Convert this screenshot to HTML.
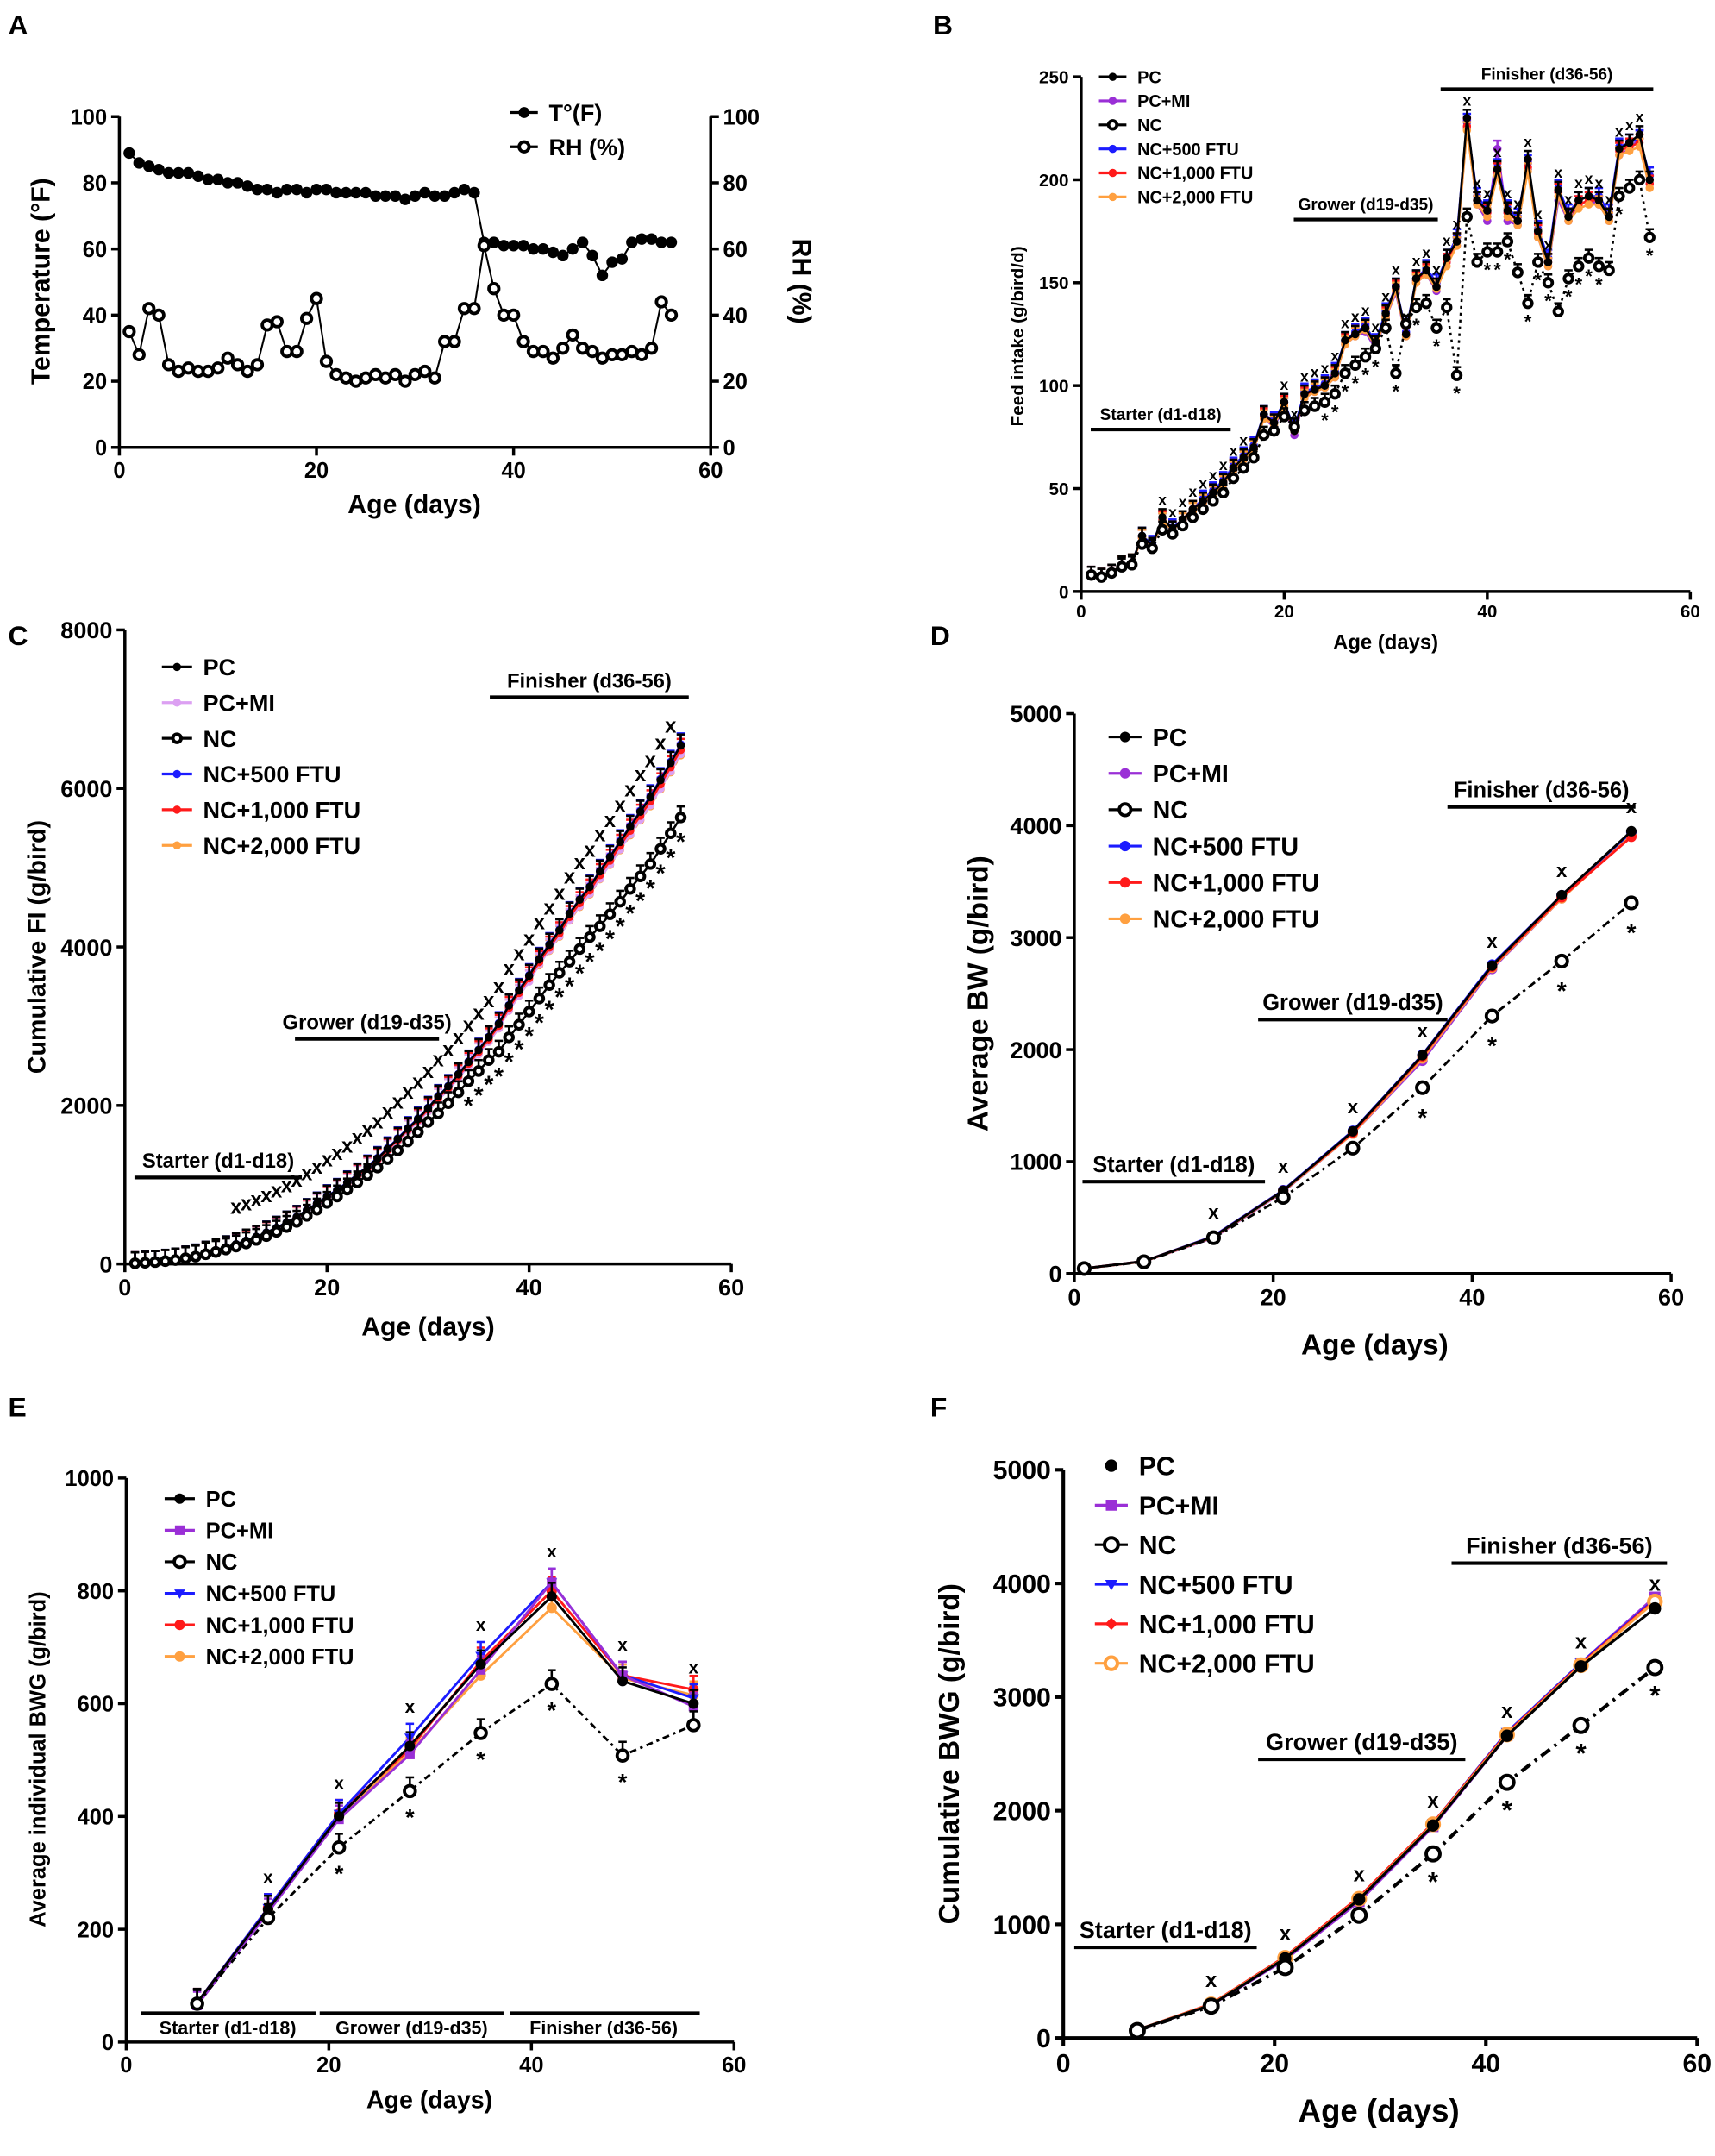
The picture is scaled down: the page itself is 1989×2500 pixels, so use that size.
<!DOCTYPE html>
<html><head><meta charset="utf-8"><style>
html,body{margin:0;padding:0;background:#fff}
svg{display:block;font-family:"Liberation Sans",sans-serif;font-weight:bold}
</style></head><body>
<svg id="fig" xmlns="http://www.w3.org/2000/svg" width="1989" height="2500" viewBox="0 0 1250 1571" preserveAspectRatio="none"></svg>
<script>
// ---------- DATA ----------
const daysA = [1,2,3,4,5,6,7,8,9,10,11,12,13,14,15,16,17,18,19,20,21,22,23,24,25,26,27,28,29,30,31,32,33,34,35,36,37,38,39,40,41,42,43,44,45,46,47,48,49,50,51,52,53,54,55,56];
const tempF = [89,86,85,84,83,83,83,82,81,81,80,80,79,78,78,77,78,78,77,78,78,77,77,77,77,76,76,76,75,76,77,76,76,77,78,77,62,62,61,61,61,60,60,59,58,60,62,58,52,56,57,62,63,63,62,62];
const rhPct = [35,28,42,40,25,23,24,23,23,24,27,25,23,25,37,38,29,29,39,45,26,22,21,20,21,22,21,22,20,22,23,21,32,32,42,42,61,48,40,40,32,29,29,27,30,34,30,29,27,28,28,29,28,30,44,40];

const daysB = daysA;
const fiPC  = [8,7,9,13,14,27,22,36,30,35,40,44,48,53,60,65,70,86,82,92,78,96,98,100,106,122,125,128,120,135,148,125,152,156,148,162,170,230,190,185,205,185,180,210,175,160,195,182,190,192,190,182,215,218,222,200];
const fiMI  = [8,7,9,13,14,26,22,34,30,34,39,43,47,52,59,64,69,84,80,90,76,94,97,99,104,120,124,126,118,133,145,124,150,154,146,160,168,225,188,180,215,180,178,205,172,158,190,180,188,190,188,180,212,215,220,198];
const fiNC  = [8,7,9,12,13,23,21,30,28,32,36,40,44,48,55,60,65,76,78,85,80,88,90,92,96,106,110,114,118,128,106,130,138,140,128,138,105,182,160,165,165,170,155,140,160,150,136,152,158,162,158,156,192,196,200,172];
const fi500 = [8,7,9,13,14,27,23,35,31,35,40,45,49,54,61,66,71,86,83,92,79,97,99,101,107,122,126,129,121,136,148,126,152,157,150,162,172,228,192,186,206,186,182,208,176,162,196,184,190,192,192,184,216,218,220,202];
const fi1000= [8,7,9,13,14,26,22,35,30,35,40,44,48,53,60,65,70,85,82,91,78,95,98,100,105,121,125,128,120,134,147,125,151,155,148,160,170,226,190,184,204,184,180,206,174,160,194,182,188,190,190,182,214,216,218,198];
const fi2000= [8,7,9,13,14,26,22,34,30,34,39,43,47,52,59,64,69,84,81,90,78,94,97,99,104,120,124,127,119,133,146,124,150,154,147,158,168,224,188,182,202,182,178,204,172,158,192,180,186,188,188,180,212,214,216,196];

const daysC = [1,2,3,4,5,6,7,8,9,10,11,12,13,14,15,16,17,18,19,20,21,22,23,24,25,26,27,28,29,30,31,32,33,34,35,36,37,38,39,40,41,42,43,44,45,46,47,48,49,50,51,52,53,54,55];
const cumPC  = [8,16,26,40,56,82,106,142,174,210,250,295,342,396,456,522,592,678,760,850,930,1025,1125,1225,1330,1452,1578,1706,1828,1965,2112,2240,2392,2548,2698,2860,3030,3260,3450,3636,3842,4028,4210,4420,4596,4756,4952,5134,5324,5516,5706,5888,6104,6322,6542];
const cumMI  = [8,16,25,39,55,80,103,138,170,205,244,288,334,387,446,510,579,663,743,833,910,1004,1101,1200,1304,1424,1548,1674,1792,1925,2070,2194,2344,2498,2644,2804,2972,3196,3384,3564,3778,3958,4136,4341,4513,4671,4861,5041,5229,5419,5607,5787,5999,6214,6434];
const cumNC  = [8,15,24,36,49,72,93,123,151,183,219,259,303,351,406,466,531,607,685,770,850,938,1028,1120,1216,1322,1432,1546,1664,1792,1898,2028,2166,2306,2434,2572,2677,2859,3019,3184,3349,3519,3674,3814,3974,4124,4260,4412,4570,4732,4890,5046,5238,5434,5634];
const cum500 = [8,16,26,40,56,82,106,142,174,210,250,295,343,397,457,523,594,680,763,855,934,1030,1129,1230,1337,1459,1585,1714,1835,1971,2119,2245,2397,2554,2704,2866,3038,3266,3458,3644,3850,4036,4218,4426,4602,4764,4960,5144,5334,5526,5718,5902,6118,6336,6556];
const cum1000= [8,16,25,39,55,81,104,140,171,206,246,290,338,391,451,516,586,671,753,844,922,1017,1115,1215,1320,1441,1566,1694,1814,1948,2095,2220,2371,2526,2674,2834,3004,3230,3420,3604,3808,3992,4172,4378,4552,4712,4906,5088,5276,5466,5656,5838,6052,6268,6486];
const cum2000= [8,16,25,39,55,80,103,137,168,203,242,285,332,385,444,508,576,660,740,830,908,1002,1099,1198,1302,1422,1546,1673,1792,1925,2071,2195,2345,2499,2646,2804,2972,3196,3384,3566,3768,3950,4128,4332,4504,4662,4854,5034,5220,5408,5596,5776,5988,6202,6418];

const daysD = [1,7,14,21,28,35,42,49,56];
const bwPC  = [45,110,330,740,1270,1950,2750,3380,3950];
const bwMI  = [45,108,320,730,1250,1900,2720,3350,3920];
const bwNC  = [45,105,320,680,1120,1660,2300,2790,3310];
const bw500 = [45,110,335,745,1275,1955,2760,3380,3940];
const bw1000= [45,110,330,740,1260,1940,2740,3360,3900];
const bw2000= [45,108,325,735,1250,1920,2730,3350,3910];

const daysE = [7,14,21,28,35,42,49,56];
const gPC  = [70,235,400,525,670,790,640,600];
const gMI  = [65,230,395,510,660,815,650,595];
const gNC  = [68,220,345,445,548,635,508,562];
const g500 = [70,238,405,540,685,815,650,610];
const g1000= [70,238,405,520,675,800,650,625];
const g2000= [70,235,400,515,650,770,645,615];

const daysF = [7,14,21,28,35,42,49,56];
const cgPC  = [70,290,700,1220,1870,2660,3270,3780];
const cgMI  = [70,290,690,1200,1860,2660,3300,3880];
const cgNC  = [65,280,620,1080,1620,2250,2750,3260];
const cg500 = [70,295,710,1230,1890,2690,3300,3860];
const cg1000= [70,300,715,1240,1890,2680,3290,3850];
const cg2000= [70,295,705,1225,1880,2670,3280,3840];

const legendNames = ["PC","PC+MI","NC","NC+500 FTU","NC+1,000 FTU","NC+2,000 FTU"];

// ---------- DRAW ----------
const NS="http://www.w3.org/2000/svg";
const svg=document.getElementById('fig');
function el(tag,attrs,parent,text){const e=document.createElementNS(NS,tag);for(const k in attrs)e.setAttribute(k,attrs[k]);if(text!==undefined)e.textContent=text;(parent||svg).appendChild(e);return e;}
function txt(x,y,s,size,parent,anchor,rot,name){const t=el('text',{x:x,y:y,'font-size':size,'text-anchor':anchor||'middle',fill:'#000'},parent,s);if(rot)t.setAttribute('transform','rotate('+rot+' '+x+' '+y+')');return t;}

function panel(c){
  const g=el('g',{});
  
  
  c.sx=v=>c.x0+(v-c.xmin)/(c.xmax-c.xmin)*(c.x1-c.x0);
  c.sy=v=>c.y0-(v-c.ymin)/(c.ymax-c.ymin)*(c.y0-c.y1);
  const ax=el('g',{stroke:'#000','stroke-width':c.aw||2.2},g);
  
  el('line',{x1:c.x0,y1:c.y0,x2:c.x1,y2:c.y0},ax);
  el('line',{x1:c.x0,y1:c.y0,x2:c.x0,y2:c.y1},ax);
  if(c.right)el('line',{x1:c.x1,y1:c.y0,x2:c.x1,y2:c.y1},ax);
  for(const v of c.xt){const x=c.sx(v);el('line',{x1:x,y1:c.y0,x2:x,y2:c.y0+6},ax);txt(x,c.y0+6+c.tf,String(v),c.tf,g,'middle',0,'x-tick-label');}
  for(const v of c.yt){const y=c.sy(v);el('line',{x1:c.x0-6,y1:y,x2:c.x0,y2:y},ax);txt(c.x0-9,y+c.tf*0.36,String(v),c.tf,g,'end',0,'y-tick-label');
    if(c.right){el('line',{x1:c.x1,y1:y,x2:c.x1+6,y2:y},ax);txt(c.x1+9,y+c.tf*0.36,String(v),c.tf,g,'start',0,'y2-tick-label');}}
  txt(c.xl[0],c.xl[1],'Age (days)',c.xf,g,'middle',0,'x-axis-title');
  txt(c.yl[0],c.yl[1],c.ytitle,c.yf,g,'middle',-90,'y-axis-title');
  txt(c.lx,c.ly,c.letter,20,g,'start',0,'panel-letter');
  c.g=g;return c;
}
function marker(c,x,y,s,parent){
  if(s.mk==='open'){el('circle',{cx:x,cy:y,r:s.r||4,fill:'#fff',stroke:s.col,'stroke-width':2.4},parent);}
  else if(s.mk==='sq'){el('rect',{x:x-s.r,y:y-s.r,width:2*s.r,height:2*s.r,fill:s.col},parent);}
  else if(s.mk==='tri'){el('path',{d:'M'+(x-s.r)+' '+(y-s.r*0.7)+'L'+(x+s.r)+' '+(y-s.r*0.7)+'L'+x+' '+(y+s.r)+'Z',fill:s.col},parent);}
  else if(s.mk==='dia'){el('path',{d:'M'+(x-s.r)+' '+y+'L'+x+' '+(y-s.r)+'L'+(x+s.r)+' '+y+'L'+x+' '+(y+s.r)+'Z',fill:s.col},parent);}
  else if(s.mk==='ring'){el('circle',{cx:x,cy:y,r:s.r,fill:'#fff',stroke:s.col,'stroke-width':2.5},parent);}
  else el('circle',{cx:x,cy:y,r:s.r||4,fill:s.col},parent);
}
function series(c,xs,ys,s,name){
  const g=el('g',{},c.g);
  
  let d='';xs.forEach((x,i)=>{d+=(i?'L':'M')+c.sx(x).toFixed(1)+' '+c.sy(ys[i]).toFixed(1);});
  if(s.line!==false){const p=el('path',{d:d,fill:'none',stroke:s.col,'stroke-width':s.w||1.6},g);if(s.dash)p.setAttribute('stroke-dasharray',s.dash);}
  if(s.err){xs.forEach((x,i)=>{const X=c.sx(x),Y=c.sy(ys[i]);el('line',{x1:X,y1:Y,x2:X,y2:Y-s.err,stroke:s.col,'stroke-width':1.6},g);el('line',{x1:X-3,y1:Y-s.err,x2:X+3,y2:Y-s.err,stroke:s.col,'stroke-width':1.6},g);});}
  if(s.mk!=='none')xs.forEach((x,i)=>marker(c,c.sx(x),c.sy(ys[i]),s,g));
}
function legend(c,styles,x,y0,dy,size,lineLen){
  const g=el('g',{},c.g);
  
  styles.forEach((s,i)=>{const y=y0+i*dy;
    const e=el('g',{},g);
    if(s.line!==false)el('line',{x1:x,y1:y,x2:x+lineLen,y2:y,stroke:s.col,'stroke-width':2},e);
    marker(c,x+lineLen/2,y,s,e);
    txt(x+lineLen+8,y+size*0.36,s.label,size,e,'start',0,'legend-label');});
}
function phase(c,x1,x2,y,label,size){
  const g=el('g',{},c.g);
  el('line',{x1:x1,y1:y,x2:x2,y2:y,stroke:'#000','stroke-width':2.6},g);
  txt((x1+x2)/2,y-7,label,size,g,'middle',0,'phase-label');
}
function marks(c,xs,ys,idx,sym,off,size){
  idx.forEach(i=>{txt(c.sx(xs[i]),c.sy(ys[i])+off,sym,size,c.g,'middle',0,sym==='x'?'significance-x':'significance-star');});
}
const COL={pc:'#000',mi:'#9a2fd6',mil:'#dca0f2',nc:'#000',b:'#1c1cff',r:'#ff1a1a',o:'#ffa040'};

// Panel A
const A=panel({name:'panel-a',letter:'A',lx:6,ly:25,x0:87,x1:518,xmin:0,xmax:60,y0:326,y1:85,ymin:0,ymax:100,xt:[0,20,40,60],yt:[0,20,40,60,80,100],tf:16,right:true,xl:[302,374],xf:19,yl:[36,205],ytitle:'Temperature (°F)',yf:19});
txt(578,205,'RH (%)',19,A.g,'middle',90,'y2-axis-title');
series(A,daysA,tempF,{col:'#000',mk:'fill',r:4.2,w:1.3},'series-temperature');
series(A,daysA,rhPct,{col:'#000',mk:'open',r:3.6,w:1.3},'series-rh');
legend(A,[{col:'#000',mk:'fill',r:4,label:'T°(F)'},{col:'#000',mk:'open',r:3.6,label:'RH (%)'}],372,82,25,17,20);

// Panel B
const B=panel({name:'panel-b',letter:'B',lx:680,ly:25,x0:788,x1:1232,xmin:0,xmax:60,y0:431,y1:56,ymin:0,ymax:250,xt:[0,20,40,60],yt:[0,50,100,150,200,250],tf:13,xl:[1010,473],xf:15,yl:[746,245],ytitle:'Feed intake (g/bird/d)',yf:13});
const stB=[{col:COL.pc,mk:'fill',r:3,label:legendNames[0]},{col:COL.mi,mk:'fill',r:3,label:legendNames[1]},{col:COL.nc,mk:'open',r:3,label:legendNames[2],dash:'2 3'},{col:COL.b,mk:'fill',r:3,label:legendNames[3]},{col:COL.r,mk:'fill',r:3,label:legendNames[4]},{col:COL.o,mk:'fill',r:3,label:legendNames[5]}];
[[fiMI,1,'series-pc-mi'],[fi500,3,'series-nc-500'],[fi1000,4,'series-nc-1000'],[fi2000,5,'series-nc-2000'],[fiPC,0,'series-pc'],[fiNC,2,'series-nc']].forEach(a=>series(B,daysB,a[0],Object.assign({err:6},stB[a[1]]),a[2]));
legend(B,stB,801,56,17.5,12.5,20);
phase(B,795,897,313,'Starter (d1-d18)',12);
phase(B,943,1048,160,'Grower (d19-d35)',12);
phase(B,1050,1205,65,'Finisher (d36-56)',12);
marks(B,daysB,fiPC,[7,8,9,10,11,12,13,14,15,19,20,21,22,23,24,25,26,27,28,29,30,31,32,33,34,35,36,37,38,39,40,41,42,43,44,45,46,47,48,49,50,51,52,53,54],'x',-9,11);
marks(B,daysB,fiNC,[23,24,25,26,27,28,30,32,34,36,39,40,41,43,44,45,47,48,49,50,52,55],'*',18,14);

// Panel C
const C=panel({name:'panel-c',letter:'C',lx:6,ly:470,x0:91,x1:533,xmin:0,xmax:60,y0:921,y1:459,ymin:0,ymax:8000,xt:[0,20,40,60],yt:[0,2000,4000,6000,8000],tf:17,xl:[312,973],xf:19,yl:[33,690],ytitle:'Cumulative FI (g/bird)',yf:18});
const stC=[{col:COL.pc,mk:'fill',r:3,label:legendNames[0]},{col:COL.mil,mk:'fill',r:3,label:legendNames[1]},{col:COL.nc,mk:'ring',r:3,label:legendNames[2]},{col:COL.b,mk:'fill',r:3,label:legendNames[3]},{col:COL.r,mk:'fill',r:3,label:legendNames[4]},{col:COL.o,mk:'fill',r:3,label:legendNames[5],dash:'3 3'}];
[[cum2000,5,'series-nc-2000'],[cumMI,1,'series-pc-mi'],[cum1000,4,'series-nc-1000'],[cum500,3,'series-nc-500'],[cumPC,0,'series-pc'],[cumNC,2,'series-nc']].forEach(a=>series(C,daysC,a[0],Object.assign({err:8},stC[a[1]]),a[2]));
legend(C,stC,118,486,26,17,22);
phase(C,98,220,858,'Starter (d1-d18)',15);
phase(C,215,320,757,'Grower (d19-d35)',15);
phase(C,357,502,508,'Finisher (d36-56)',15);
marks(C,daysC,cumPC,[10,11,12,13,14,15,16,17,18,19,20,21,22,23,24,25,26,27,28,29,30,31,32,33,34,35,36,37,38,39,40,41,42,43,44,45,46,47,48,49,50,51,52,53],'x',-22,15);
marks(C,daysC,cumNC,[33,34,35,36,37,38,39,40,41,42,43,44,45,46,47,48,49,50,51,52,53,54],'*',24,18);

// Panel D
const D=panel({name:'panel-d',letter:'D',lx:678,ly:470,x0:783,x1:1218,xmin:0,xmax:60,y0:928,y1:520,ymin:0,ymax:5000,xt:[0,20,40,60],yt:[0,1000,2000,3000,4000,5000],tf:17,xl:[1002,987],xf:21,yl:[720,724],ytitle:'Average BW (g/bird)',yf:21});
const stD=[{col:COL.pc,mk:'fill',r:3.8,label:legendNames[0]},{col:COL.mi,mk:'fill',r:3.8,label:legendNames[1]},{col:COL.nc,mk:'open',r:4.2,label:legendNames[2],dash:'6 3 2 3'},{col:COL.b,mk:'fill',r:3.8,label:legendNames[3]},{col:COL.r,mk:'fill',r:3.8,label:legendNames[4]},{col:COL.o,mk:'fill',r:3.8,label:legendNames[5]}];
[[bwMI,1,'series-pc-mi'],[bw500,3,'series-nc-500'],[bw2000,5,'series-nc-2000'],[bw1000,4,'series-nc-1000'],[bwPC,0,'series-pc'],[bwNC,2,'series-nc']].forEach(a=>series(D,daysD,a[0],Object.assign({w:1.8},stD[a[1]]),a[2]));
legend(D,stD,808,537,26.5,18,24);
phase(D,789,922,861,'Starter (d1-d18)',16);
phase(D,917,1055,743,'Grower (d19-d35)',16);
phase(D,1055,1192,588,'Finisher (d36-56)',16);
marks(D,daysD,bwPC,[2,3,4,5,6,7,8],'x',-13,14);
marks(D,daysD,bwNC,[5,6,7,8],'*',28,18);

// Panel E
const E=panel({name:'panel-e',letter:'E',lx:6,ly:1032,x0:92,x1:535,xmin:0,xmax:60,y0:1488,y1:1077,ymin:0,ymax:1000,xt:[0,20,40,60],yt:[0,200,400,600,800,1000],tf:16,xl:[313,1536],xf:18,yl:[33,1282],ytitle:'Average individual BWG (g/bird)',yf:16});
const stE=[{col:COL.pc,mk:'fill',r:3.8,label:legendNames[0]},{col:COL.mi,mk:'sq',r:3.5,label:legendNames[1]},{col:COL.nc,mk:'open',r:4,label:legendNames[2],dash:'5 3 2 3',line:true},{col:COL.b,mk:'tri',r:4,label:legendNames[3]},{col:COL.r,mk:'fill',r:3.8,label:legendNames[4]},{col:COL.o,mk:'fill',r:3.8,label:legendNames[5]}];
[[g2000,5,'series-nc-2000'],[g1000,4,'series-nc-1000'],[g500,3,'series-nc-500'],[gMI,1,'series-pc-mi'],[gPC,0,'series-pc'],[gNC,2,'series-nc']].forEach(a=>series(E,daysE,a[0],Object.assign({w:1.8,err:10},stE[a[1]]),a[2]));
legend(E,stE,120,1092,23,16,22);
phase(E,103,230,1467,'',14);txt(166,1482,'Starter (d1-d18)',13.5,E.g,'middle',0,'phase-label');
phase(E,233,367,1467,'',14);txt(300,1482,'Grower (d19-d35)',13.5,E.g,'middle',0,'phase-label');
phase(E,372,510,1467,'',14);txt(440,1482,'Finisher (d36-56)',13.5,E.g,'middle',0,'phase-label');
marks(E,daysE,g500,[1,2,3,4,5,6,7],'x',-18,13);
marks(E,daysE,gNC,[2,3,4,5,6],'*',25,17);

// Panel F
const F=panel({name:'panel-f',letter:'F',lx:678,ly:1032,x0:775,x1:1237,xmin:0,xmax:60,y0:1485,y1:1071,ymin:0,ymax:5000,xt:[0,20,40,60],yt:[0,1000,2000,3000,4000,5000],tf:19,aw:2.6,xl:[1005,1546],xf:23,yl:[699,1278],ytitle:'Cumulative BWG (g/bird)',yf:21});
const stF=[{col:COL.pc,mk:'fill',r:4.5,label:legendNames[0],line:false},{col:COL.mi,mk:'sq',r:4,label:legendNames[1]},{col:COL.nc,mk:'ring',r:5,label:legendNames[2],dash:'8 4 2 4',w:2.6},{col:COL.b,mk:'tri',r:4.5,label:legendNames[3]},{col:COL.r,mk:'dia',r:4.5,label:legendNames[4]},{col:COL.o,mk:'ring',r:4.5,label:legendNames[5]}];
[[cgMI,1,'series-pc-mi'],[cg500,3,'series-nc-500'],[cg1000,4,'series-nc-1000'],[cg2000,5,'series-nc-2000'],[cgPC,0,'series-pc'],[cgNC,2,'series-nc']].forEach(a=>series(F,daysF,a[0],Object.assign({w:2},stF[a[1]],{line:true}),a[2]));
legend(F,stF,798,1068,28.8,19,24);
phase(F,783,916,1419,'Starter (d1-d18)',17);
phase(F,917,1068,1282,'Grower (d19-d35)',17);
phase(F,1058,1215,1139,'Finisher (d36-56)',17);
marks(F,daysF,cgPC,[1,2,3,4,5,6,7],'x',-13,15);
marks(F,daysF,cgNC,[4,5,6,7],'*',27,20);
</script>
</body></html>
